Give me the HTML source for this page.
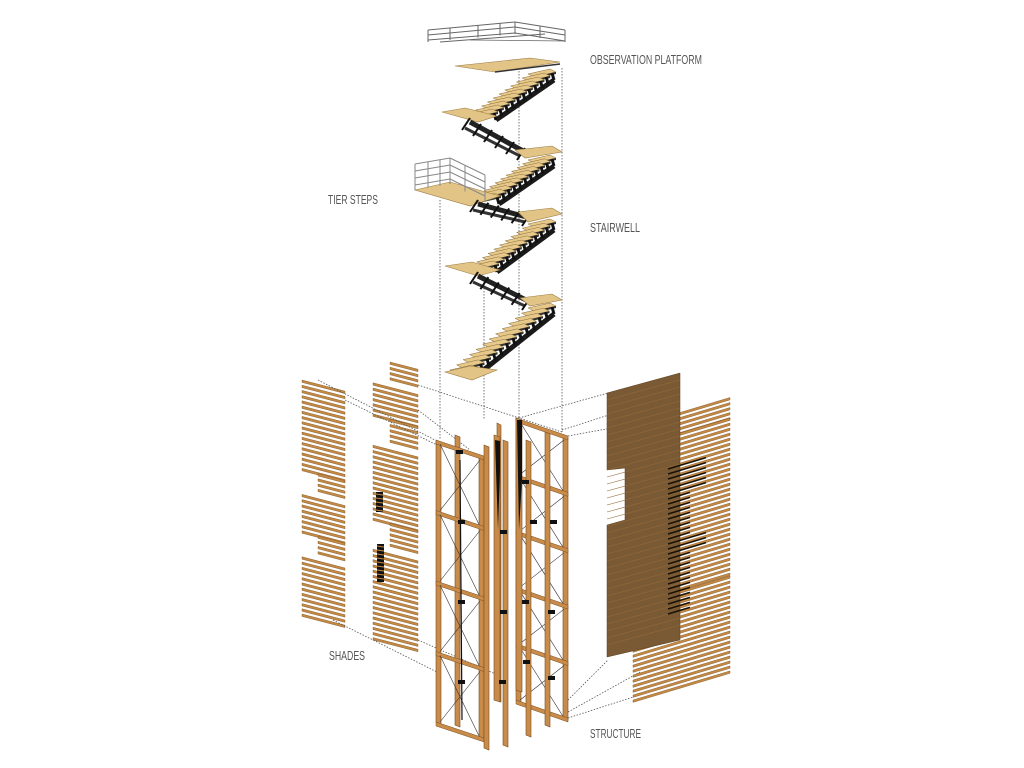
<!DOCTYPE html>
<html><head><meta charset="utf-8"><style>
html,body{margin:0;padding:0;background:#fff;width:1024px;height:768px;overflow:hidden}
svg{display:block}
text{font-family:"Liberation Sans",sans-serif;font-size:13px;fill:#555}
</style></head><body>
<svg id="s" width="1024" height="768" viewBox="0 0 1024 768" xmlns="http://www.w3.org/2000/svg">
<g id="g"></g>
<text x="590" y="64" textLength="112" lengthAdjust="spacingAndGlyphs">OBSERVATION PLATFORM</text>
<text x="328" y="204" textLength="50" lengthAdjust="spacingAndGlyphs">TIER STEPS</text>
<text x="590" y="232" textLength="50" lengthAdjust="spacingAndGlyphs">STAIRWELL</text>
<text x="329" y="660" textLength="36" lengthAdjust="spacingAndGlyphs">SHADES</text>
<text x="590" y="738" textLength="51" lengthAdjust="spacingAndGlyphs">STRUCTURE</text>
</svg>
<script>
var g=document.getElementById('g'),h='';
function P(pts,f,s,w){h+='<polygon points="'+pts+'" fill="'+f+'" stroke="'+(s||'none')+'" stroke-width="'+(w||1)+'"/>';}
function L(x1,y1,x2,y2,s,w,d){h+='<line x1="'+x1+'" y1="'+y1+'" x2="'+x2+'" y2="'+y2+'" stroke="'+s+'" stroke-width="'+(w||1)+'"'+(d?' stroke-dasharray="'+d+'"':'')+'/>';}
function R(x,y,w,hh,f){h+='<rect x="'+x+'" y="'+y+'" width="'+w+'" height="'+hh+'" fill="'+f+'"/>';}
var DOT='1.5,1.5',DC='#555';
L(440,200,440,440,DC,0.8,DOT);L(484,270,484,420,DC,0.8,DOT);L(519,62,519,420,DC,0.8,DOT);L(562,68,562,432,DC,0.8,DOT);
var rc='#666';
L(428,30,515,22,rc,1);L(515,22,565,30,rc,1);L(428,40,515,33,rc,1);L(515,33,565,41,rc,1);
L(428,35,515,27,rc,1);L(515,27,565,35,rc,1);L(440,42,545,34,rc,1);L(470,40,565,41,rc,0.8);
[428,450,478,500,515,540,565].forEach(function(x,i){var y=i<5?30-(x-428)*0.09:22+(x-515)*0.16;L(x,y,x,y+12,rc,1);});
function landing(pts){P(pts,'#e2c487','#9c7a40',0.6);}
function flight(x1,y1,x2,y2,n){
 var pts=[];
 for(var i=0;i<n;i++){var t=i/(n-1),x=x1+(x2-x1)*t,y=y1+(y2-y1)*t;pts.push([x,y]);}
 L(x1+2,y1+6,x2+2,y2+6,'#1a1a1a',5);
 pts.forEach(function(p){var x=p[0],y=p[1];
  P((x-24)+','+(y)+' '+(x-2)+','+(y-5)+' '+(x+4)+','+(y-2)+' '+(x-18)+','+(y+3),'#e6c98a','#8a6a35',0.5);
  P((x-18)+','+(y+3)+' '+(x+4)+','+(y-2)+' '+(x+4)+','+(y)+' '+(x-18)+','+(y+5),'#333');
  L(x,y-1,x+2,y+6,'#111',3);});
}
function truss(x1,y1,x2,y2){L(x1,y1,x2,y2,'#222',5);L(x1-5,y1+6,x2-5,y2+4,'#333',3);for(var i=0;i<6;i++){var t=i/5;L(x1+(x2-x1)*t,y1+(y2-y1)*t-4,x1+(x2-x1)*t-8,y1+(y2-y1)*t+8,'#111',2);}}
landing('455,66 530,58 560,62 495,72');L(495,72,560,64,'#333',1.5);
flight(552,74,494,114,11);
landing('442,112 465,108 497,116 478,122');
truss(470,122,525,152);
landing('515,150 552,146 562,152 525,158');
flight(552,160,497,198,11);
landing('415,190 450,182 500,196 470,206');
var r2='#888';
for(var k=0;k<4;k++){L(415,164+k*7,450,158+k*7,r2,1);L(450,158+k*7,485,175+k*7,r2,1);}
[415,428,440,450,465,485].forEach(function(x){var y=x<=450?164-(x-415)*0.17:158+(x-450)*0.49;L(x,y,x,y+26,r2,1);});
truss(478,204,530,218);
landing('518,212 552,208 562,214 528,222');
flight(552,224,495,266,11);
landing('445,266 472,262 500,270 478,276');
truss(478,276,530,302);
landing('520,298 552,294 562,300 530,306');
flight(552,308,474,370,13);
landing('445,372 470,366 497,370 472,380');
var SC='#c48a45',SO='#7a5020';
function stripe(xa,xb,y,sl){var ya=y,yb=y+(xb-xa)*sl;P(xa+','+ya+' '+xb+','+yb+' '+xb+','+(yb+2.4)+' '+xa+','+(ya+2.4),SC,SO,0.4);}
for(var y=380;y<615;y+=5.2){
 var gap=(y>470&&y<492)||(y>533&&y<552);
 stripe(gap?318:302,345,y,0.26);
}
for(var y=362;y<640;y+=5.2){
 var gap=(y>415&&y<440)||(y>520&&y<548)||(y<380);
 stripe(gap?390:373,418,y,0.26);
}
R(376,492,7,20,'#111');R(377,544,7,38,'#111');
for(var y=494;y<512;y+=4)L(376,y,383,y+1,'#c48a45',1);
for(var y=546;y<582;y+=4)L(377,y,384,y+1,'#c48a45',1);
L(318,380,435,440,DC,0.8,DOT);L(345,400,437,445,DC,0.8,DOT);L(418,385,562,432,DC,0.8,DOT);L(418,410,470,450,DC,0.8,DOT);
L(333,620,437,672,DC,0.8,DOT);L(418,640,500,676,DC,0.8,DOT);
var W='#c98b4a',WO='#7a4f22';
function post(x,y1,y2,w){P(x+','+y1+' '+(x+w)+','+(y1+2)+' '+(x+w)+','+(y2+2)+' '+x+','+y2,W,WO,0.6);}
function beam(x1,y1,x2,y2){P(x1+','+y1+' '+x2+','+y2+' '+x2+','+(y2+4)+' '+x1+','+(y1+4),W,WO,0.5);}
post(455,435,725,5);post(497,423,700,4);
function frame(xl,yl,xr,yr,hgt,rows){
 post(xl,yl,yl+hgt,5);post(xr-5,yr,yr+hgt,5);
 for(var i=0;i<=rows;i++){var o=i*hgt/rows;beam(xl,yl+o,xr,yr+o);
  if(i<rows){var o2=(i+1)*hgt/rows;L(xl+4,yl+o+4,xr-4,yr+o2,'#333',0.6);L(xr-4,yr+o+4,xl+4,yl+o2,'#333',0.6);}}
}
frame(436,440,484,456,282,4);
L(460,460,462,720,'#111',1.2);
post(484,445,748,5);
post(494,435,700,6);P('495,440 500,441 500,470 498,530 496,470','#111');
post(503,440,745,5);
frame(516,418,568,436,282,5);
post(516,418,690,6);P('517,420 522,420 522,480 519,530','#111');
post(526,440,735,5);post(545,432,725,5);
[[522,480],[530,520],[550,520],[522,600],[548,610],[523,660],[548,676],[456,450],[458,520],[458,600],[458,680],[500,530],[500,610],[499,680]].forEach(function(p){R(p[0],p[1],7,4,'#111');});
L(519,418,608,393,DC,0.8,DOT);L(562,430,640,405,DC,0.8,DOT);L(568,436,655,420,DC,0.8,DOT);
L(568,700,608,660,DC,0.8,DOT);L(568,712,640,672,DC,0.8,DOT);L(568,718,655,690,DC,0.8,DOT);
for(var y=420;y<705;y+=5){var xa=y>600?633:y>440?640:655,xb=730;
 var ya=y,yb=y-(xb-xa)*0.3;P(xa+','+ya+' '+xb+','+yb+' '+xb+','+(yb+2.4)+' '+xa+','+(ya+2.4),SC,SO,0.4);}
P('607,393 680,373 680,640 607,657 607,525 625,520 625,468 607,470','#7a5a34','#5a3e1e',0.5);
for(var y=400;y<650;y+=7)L(607,y,680,y-20,'#946a3a',0.6);
for(var y=470;y<620;y+=5){var xa=668,xb=y<500||(y>540&&y<560)?706:690;L(xa,y-1,xb,y-1-(xb-xa)*0.3,'#1a1206',1.6);}
g.innerHTML=h;
</script>
</body></html>
